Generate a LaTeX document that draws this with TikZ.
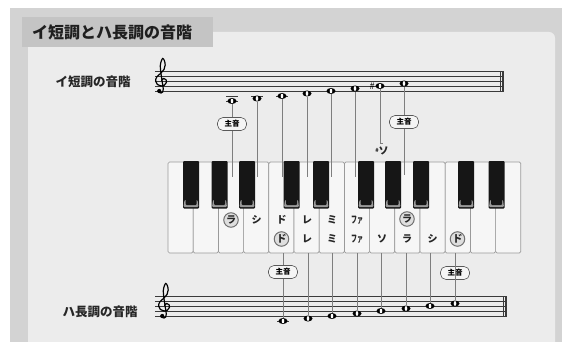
\documentclass[tikz,border=0pt]{standalone}
\usepackage{fontspec}
\setmainfont{Noto Sans CJK JP}
\usetikzlibrary{shapes.geometric}
\definecolor{outerg}{HTML}{D3D3D3}
\definecolor{panelg}{HTML}{ECECEC}
\definecolor{titleg}{HTML}{C4C4C4}
\definecolor{keyline}{HTML}{9A9A9A}
\definecolor{wkey}{HTML}{F6F6F6}
\definecolor{bkey}{HTML}{161616}
\definecolor{bbevel}{HTML}{9A9A9A}
\definecolor{connc}{HTML}{7E7E7E}
\definecolor{staffc}{HTML}{3A3A3A}
\definecolor{ringc}{HTML}{707070}
\definecolor{ringf}{HTML}{DEDEDE}
\tikzset{
  conn/.style={connc, line width=0.5pt},
  staffline/.style={staffc, line width=0.6pt},
  ledger/.style={staffc, line width=0.6pt},
  wnote/.style={ellipse, draw=none, fill=black, minimum width=9pt, minimum height=6pt, inner sep=0pt,
    path picture={\fill[white, rotate around={35:(path picture bounding box.center)}] (path picture bounding box.center) ellipse [x radius=1.3pt, y radius=2.4pt];}},
  keylab/.style={font=\bfseries\fontsize{10}{10}\selectfont, inner sep=0pt, text=black!85},
  ringlab/.style={keylab, circle, draw=ringc, line width=1pt, fill=ringf, minimum size=14.5pt},
  tonic/.style={rounded corners=5.5pt, draw=black!65, line width=0.6pt, fill=white!96!black, minimum width=29pt, minimum height=13pt, inner sep=0pt, font=\bfseries\fontsize{7.5}{7.5}\selectfont},
  sidelab/.style={font=\bfseries\fontsize{12.5}{12.5}\selectfont, text=black!85, inner sep=0pt},
  titletext/.style={font=\bfseries\fontsize{16}{16}\selectfont, text=black!88, inner sep=0pt}
}
\newcommand{\myclef}[2]{%
  \begin{scope}[shift={(#1,#2)}, x=6pt, y=5pt]
    \draw[black, line width=1.2pt, line cap=round] plot[smooth, tension=0.6] coordinates {(0.1,1.1) (0.45,1.5) (0.85,1.25) (0.9,0.7) (0.55,0.15) (0,0) (-0.6,0.3) (-0.9,1.0) (-0.7,1.8) (0,2.6) (0.5,3.3) (0.7,4.2) (0.55,5.1) (0.3,5.5) (0.05,5.0) (-0.12,4.0) (0.0,2.5) (0.25,0.5) (0.38,-0.6) (0.28,-1.2) (0,-1.4) (-0.35,-1.2)};
    \fill[black] (-0.3,-1.0) circle [x radius=0.35, y radius=0.42];
  \end{scope}}
\begin{document}
\begin{tikzpicture}[x=1pt,y=-1pt]
\useasboundingbox (0,0) rectangle (562,342);
\fill[white] (0,0) rectangle (562,342);
\fill[outerg] (10,8) rectangle (562,342);
\fill[panelg] (28,342) -- (28,47) -- (213,47) -- (213,32) {[rounded corners=6pt] -- (555,32) -- (555,350)} -- (28,350) -- cycle;
\fill[titleg] (22,17) rectangle (213,47);
\node[titletext] (title) at (112,32) {イ短調とハ長調の音階};

% side labels
\node[sidelab] (lab1) at (93,82) {イ短調の音階};
\node[sidelab] (lab2) at (100,312) {ハ長調の音階};

% staves
\foreach \i in {0,...,4} {
  \draw[staffline] (155,71+5*\i) -- (504,71+5*\i);
  \draw[staffline] (155,296+5*\i) -- (507,296+5*\i);
}
\draw[staffc, line width=0.6pt] (500,71) -- (500,91);
\draw[staffc, line width=2pt] (503,71) -- (503,91);
\draw[staffc, line width=0.6pt] (503,296) -- (503,316);
\draw[staffc, line width=2pt] (506,296) -- (506,316);
\myclef{161}{86}
\myclef{164}{311}

% ledger lines
\draw[ledger] (226,96) -- (238,96);
\draw[ledger] (226,101) -- (238,101);
\draw[ledger] (251,96) -- (263,96);
\draw[ledger] (276,96) -- (288,96);
\draw[ledger] (277,321) -- (289,321);

% upper notes (A minor)
\node[wnote] (ua) at (232,101) {};
\node[wnote] (ub) at (257,98.5) {};
\node[wnote] (uc) at (282,96) {};
\node[wnote] (ud) at (307,93.5) {};
\node[wnote] (ue) at (331,91) {};
\node[wnote] (uf) at (355,88.5) {};
\node[wnote] (ug) at (380,86) {};
\node[wnote] (uh) at (404,83.5) {};
\node[font=\fontsize{9}{9}\selectfont, inner sep=0pt] (sharp) at (372,86) {\#};

% lower notes (C major)
\node[wnote] (lc) at (283,321) {};
\node[wnote] (ld) at (308,318.5) {};
\node[wnote] (le) at (332,316) {};
\node[wnote] (lf) at (357,313.5) {};
\node[wnote] (lg) at (381,311) {};
\node[wnote] (la) at (406,308.5) {};
\node[wnote] (lb) at (430,306) {};
\node[wnote] (lh) at (455,303.5) {};

% keyboard white keys
\foreach \i in {0,...,13} {
  \draw[keyline, fill=wkey, line width=0.7pt, rounded corners=1.5pt] (168+25.2*\i,162) rectangle (168+25.2*\i+25.2,253);
}
% black keys
\foreach \c in {191,219.5,247,291.5,321,366,393,421,466,496.5} {
  \fill[bkey, rounded corners=1pt] (\c-8,161) rectangle (\c+8,208.5);
  \fill[bbevel, rounded corners=1pt] (\c-6.5,200) -- (\c+6.5,200) -- (\c+7.5,207) -- (\c-7.5,207) -- cycle;
  \fill[bkey, rounded corners=1pt] (\c-5.5,199) rectangle (\c+5.5,205);
}

% connector end coordinates
\coordinate (uae) at (232,177);
\coordinate (ube) at (257,177);
\coordinate (uce) at (282,177);
\coordinate (ude) at (307,177);
\coordinate (uee) at (331,177);
\coordinate (ufe) at (355,177);
\coordinate (uge) at (380,143);
\coordinate (uhe) at (404,175);
\coordinate (lcs) at (283,253);
\coordinate (lds) at (308,253);
\coordinate (les) at (332,253);
\coordinate (lfs) at (357,253);
\coordinate (lgs) at (381,253);
\coordinate (las) at (406,253);
\coordinate (lbs) at (430,253);
\coordinate (lhs) at (455,253);

% tonic labels and # so
\node[tonic] (t1) at (232,124) {主音};
\node[tonic] (t2) at (404,122) {主音};
\node[tonic] (t3) at (283,272) {主音};
\node[tonic] (t4) at (455,273) {主音};
\node[keylab] (gs) at (382,151) {\raisebox{2.5pt}{\fontsize{5.5}{5.5}\selectfont\#}ソ};

% connectors
\draw[conn] (ua.south) -- (t1.north);
\draw[conn] (t1.south) -- (uae);
\draw[conn] (ub.south) -- (ube);
\draw[conn] (uc.south) -- (uce);
\draw[conn] (ud.south) -- (ude);
\draw[conn] (ue.south) -- (uee);
\draw[conn] (uf.south) -- (ufe);
\draw[conn] (ug.south) -- (uge) -- ++(3,0);
\draw[conn] (uh.south) -- (t2.north);
\draw[conn] (t2.south) -- (uhe);
\draw[conn] (lcs) -- (t3.north);
\draw[conn] (t3.south) -- (lc.north);
\draw[conn] (lds) -- (ld.north);
\draw[conn] (les) -- (le.north);
\draw[conn] (lfs) -- (lf.north);
\draw[conn] (lgs) -- (lg.north);
\draw[conn] (las) -- (la.north);
\draw[conn] (lbs) -- (lb.north);
\draw[conn] (lhs) -- (t4.south);
\draw[conn] (t4.north) -- (lh.north);

% key labels row 1 (A minor)
\node[ringlab] (r1a) at (231,220) {ラ};
\node[keylab] (r1b) at (256.5,220) {シ};
\node[keylab] (r1c) at (281.5,220) {ド};
\node[keylab] (r1d) at (307,220) {レ};
\node[keylab] (r1e) at (332,220) {ミ};
\node[keylab] (r1f) at (357,220) {\scalebox{0.6}[1]{ファ}};
\node[ringlab] (r1g) at (407,219) {ラ};
% key labels row 2 (C major)
\node[ringlab] (r2c) at (281.5,239) {ド};
\node[keylab] (r2d) at (307,239) {レ};
\node[keylab] (r2e) at (332,239) {ミ};
\node[keylab] (r2f) at (357,239) {\scalebox{0.6}[1]{ファ}};
\node[keylab] (r2g) at (382,239) {ソ};
\node[keylab] (r2a) at (407,239) {ラ};
\node[keylab] (r2b) at (432.5,239) {シ};
\node[ringlab] (r2h) at (457.5,239) {ド};
\end{tikzpicture}
\end{document}
